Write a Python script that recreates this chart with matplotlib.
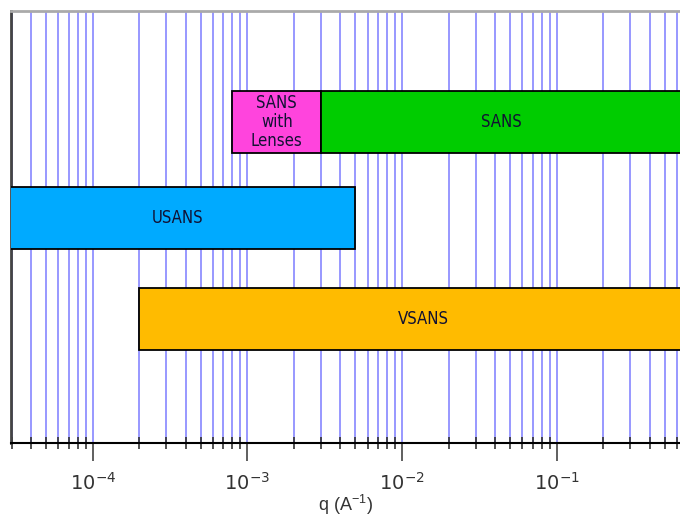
import numpy as np
import matplotlib
matplotlib.use('Agg')
import matplotlib.pyplot as plt
from matplotlib.ticker import LogLocator, NullFormatter

# q ranges of the instruments (1/A)
instruments = ['SANS\nwith\nLenses', 'SANS', 'USANS', 'VSANS']
q_min = [8e-4, 3e-3, 1e-5, 2e-4]
q_max = [3e-3, 1.0, 5e-3, 1.0]
colors = ['#ff44dd', '#00cc00', '#00aaff', '#ffbb00']
rows = ['SANS', 'SANS', 'USANS', 'VSANS']

# layout: vertical placement of rows, q where each label sits
row_y = {'SANS': 3.21, 'USANS': 2.255, 'VSANS': 1.245}
label_q = [1.55e-3, 4.36e-2, 3.56e-4, 1.37e-2]
bar_h = 0.62

plt.rcParams['mathtext.fontset'] = 'custom'
plt.rcParams['mathtext.rm'] = 'Liberation Sans'
plt.rcParams['mathtext.it'] = 'Liberation Sans:italic'

fig = plt.figure(figsize=(6.8, 5.17), dpi=100)
ax = fig.add_axes([11 / 680, 1 - 443 / 517, 1 - 11 / 680, (443 - 10.7) / 517])

ax.set_xscale('log')
ax.set_xlim(2.965e-5, 0.627)
ax.set_ylim(0, 4.323)

# blue grid at every tick
ax.xaxis.set_major_locator(LogLocator(base=10, numticks=20))
ax.xaxis.set_minor_locator(LogLocator(base=10, subs=np.arange(2, 10), numticks=20))
ax.xaxis.set_minor_formatter(NullFormatter())
ax.grid(True, which='both', axis='x', color='#9090ff', linewidth=1.3, zorder=0)
ax.set_axisbelow(True)

for name, lo, hi, c, r, xq in zip(instruments, q_min, q_max, colors, rows, label_q):
    y = row_y[r]
    ax.barh(y, hi - lo, left=lo, height=bar_h, color=c, edgecolor='black',
            linewidth=1.3, zorder=3)
    ax.text(xq, y, name, ha='center', va='center', fontsize=12,
            family='DejaVu Sans', fontstretch='condensed',
            linespacing=1.1, color='#111133', zorder=4)

ax.set_yticks([])
ax.spines['right'].set_visible(False)
ax.spines['top'].set_color('#aaaaaa')
ax.spines['top'].set_linewidth(2)
ax.spines['left'].set_color('#444444')
ax.spines['left'].set_linewidth(2)
ax.spines['bottom'].set_color('black')
ax.spines['bottom'].set_linewidth(1.5)

ax.tick_params(axis='x', which='major', direction='out', length=13, width=1.2,
               color='#444444', labelsize=14, pad=8)
ax.tick_params(axis='x', which='minor', direction='inout', length=8, width=1.2,
               color='#333333')
for lab in ax.get_xticklabels():
    lab.set_color('#333333')

ax.set_xlabel('q (A$^{-1}$)', fontsize=13, family='Liberation Sans',
              color='#333333', labelpad=-1)

fig.savefig('out.png', dpi=100)
